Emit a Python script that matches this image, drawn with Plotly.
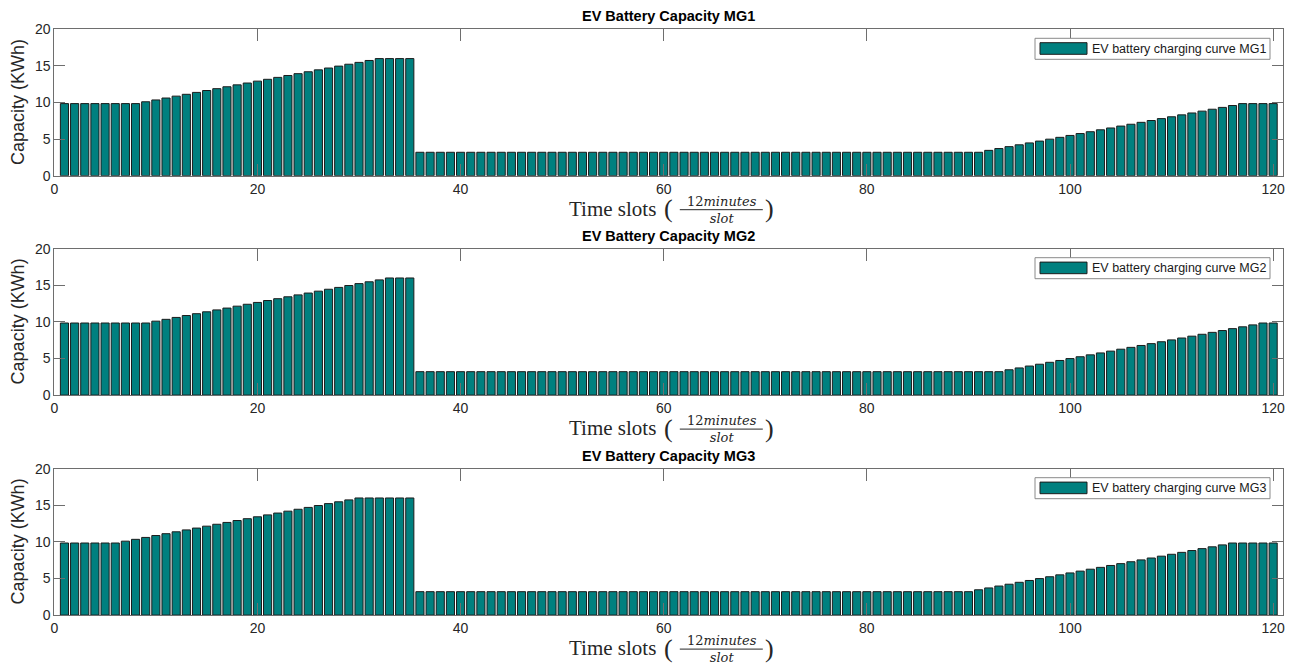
import plotly.graph_objects as go

# ---- data: EV battery capacity (kWh) per 12-minute time slot ----
slots = list(range(1, 121))

mg1_capacity = (
    [9.85] * 8
    + [10.10, 10.35, 10.61, 10.87, 11.12, 11.38, 11.64, 11.89, 12.15, 12.41, 12.66, 12.92,
       13.17, 13.43, 13.69, 13.94, 14.20, 14.46, 14.71, 14.97, 15.23, 15.48, 15.74]
    + [16.0] * 4
    + [3.2] * 56
    + [3.46, 3.71, 3.97, 4.22, 4.48, 4.73, 4.99, 5.24, 5.50, 5.76, 6.01, 6.27, 6.52,
       6.78, 7.03, 7.29, 7.54, 7.80, 8.05, 8.31, 8.57, 8.82, 9.08, 9.33, 9.59]
    + [9.85] * 4
)

mg2_capacity = (
    [9.85] * 9
    + [10.10, 10.35, 10.61, 10.87, 11.12, 11.38, 11.64, 11.89, 12.15, 12.41, 12.66, 12.92,
       13.17, 13.43, 13.69, 13.94, 14.20, 14.46, 14.71, 14.97, 15.23, 15.48, 15.74]
    + [16.0] * 3
    + [3.2] * 58
    + [3.46, 3.71, 3.97, 4.22, 4.48, 4.73, 4.99, 5.24, 5.50, 5.76, 6.01, 6.27, 6.52,
       6.78, 7.03, 7.29, 7.54, 7.80, 8.05, 8.31, 8.57, 8.82, 9.08, 9.33, 9.59]
    + [9.85] * 2
)

mg3_capacity = (
    [9.85] * 6
    + [10.10, 10.35, 10.61, 10.87, 11.12, 11.38, 11.64, 11.89, 12.15, 12.41, 12.66, 12.92,
       13.17, 13.43, 13.69, 13.94, 14.20, 14.46, 14.71, 14.97, 15.23, 15.48, 15.74]
    + [16.0] * 6
    + [3.2] * 55
    + [3.46, 3.71, 3.97, 4.22, 4.48, 4.73, 4.99, 5.24, 5.50, 5.76, 6.01, 6.27, 6.52,
       6.78, 7.03, 7.29, 7.54, 7.80, 8.05, 8.31, 8.57, 8.82, 9.08, 9.33, 9.59]
    + [9.85] * 5
)

panel_titles = ["EV Battery Capacity MG1", "EV Battery Capacity MG2", "EV Battery Capacity MG3"]
legend_labels = ["EV battery charging curve MG1", "EV battery charging curve MG2",
                 "EV battery charging curve MG3"]
series = [mg1_capacity, mg2_capacity, mg3_capacity]

x_ticks = [0, 20, 40, 60, 80, 100, 120]
y_ticks = [0, 5, 10, 15, 20]

# ---- layout geometry (pixels) ----
W, H = 1295, 670
AX_LEFT, AX_RIGHT = 54.3, 1283.3
AX_TOPS = [29.3, 248.7, 468.7]
AX_H = 146.4

BAR_COLOR = "#00807f"
AXIS_COLOR = "#6e6e6e"
TEXT_COLOR = "#262626"
SANS = "Liberation Sans, Arial, sans-serif"
SERIF = "Liberation Serif, Times New Roman, serif"
MATH = "DejaVu Serif, serif"


def px(x):
    return x / W


def py(y):
    return 1 - y / H


fig = go.Figure()
shapes = []
annotations = []
cx = (AX_LEFT + AX_RIGHT) / 2

for i, (vals, title, leg) in enumerate(zip(series, panel_titles, legend_labels)):
    n = "" if i == 0 else str(i + 1)
    top = AX_TOPS[i]
    bot = top + AX_H

    fig.add_trace(go.Bar(
        x=slots, y=vals, width=0.8,
        marker=dict(color=BAR_COLOR, line=dict(color="#1c1c1c", width=1)),
        xaxis="x" + n, yaxis="y" + n, showlegend=False,
    ))

    axis_common = dict(
        showline=True, mirror="ticks", linecolor=AXIS_COLOR, linewidth=1,
        ticks="inside", tickcolor=AXIS_COLOR, tickwidth=1,
        showgrid=False, zeroline=False, automargin=False,
        tickfont=dict(family=SANS, size=14, color=TEXT_COLOR),
    )
    fig.update_layout(**{
        "xaxis" + n: dict(
            axis_common, domain=[px(AX_LEFT), px(AX_RIGHT)], range=[0, 121],
            tickvals=x_ticks, ticklen=12, anchor="y" + n,
        ),
        "yaxis" + n: dict(
            axis_common, domain=[py(bot), py(top)], range=[0, 20],
            tickvals=y_ticks, ticklen=11, anchor="x" + n,
        ),
    })

    # panel title
    annotations.append(dict(
        text="<b>" + title + "</b>", xref="paper", yref="paper",
        x=px(cx), y=py(top - 13), xanchor="center", yanchor="middle", showarrow=False,
        font=dict(family=SANS, size=14.5, color="#000000"),
    ))

    # y-axis title
    annotations.append(dict(
        text="Capacity (KWh)", xref="paper", yref="paper", textangle=-90,
        x=px(17.5), y=py(top + AX_H / 2), xanchor="center", yanchor="middle",
        showarrow=False, font=dict(family=SANS, size=18, color=TEXT_COLOR),
    ))

    # x-axis title: Time slots (12minutes / slot)
    annotations.append(dict(
        text="Time slots", xref="paper", yref="paper",
        x=px(cx - 11), y=py(bot + 33), xanchor="right", yanchor="middle",
        showarrow=False, font=dict(family=SERIF, size=21, color=TEXT_COLOR),
    ))
    annotations.append(dict(
        text="(", xref="paper", yref="paper",
        x=px(cx), y=py(bot + 33), xanchor="center", yanchor="middle",
        showarrow=False, font=dict(family=SERIF, size=26, color=TEXT_COLOR),
    ))
    annotations.append(dict(
        text=")", xref="paper", yref="paper",
        x=px(cx + 101), y=py(bot + 33), xanchor="center", yanchor="middle",
        showarrow=False, font=dict(family=SERIF, size=26, color=TEXT_COLOR),
    ))
    # numerator and denominator as one two-line text, split by the fraction bar
    annotations.append(dict(
        text="12<i>minutes</i><br><i>slot</i>", xref="paper", yref="paper",
        x=px(cx + 53), y=py(bot + 34), xanchor="center", yanchor="middle",
        align="center", showarrow=False,
        font=dict(family=MATH, size=13, color=TEXT_COLOR),
    ))
    shapes.append(dict(
        type="line", xref="paper", yref="paper",
        x0=px(cx + 11), x1=px(cx + 94), y0=py(bot + 34), y1=py(bot + 34),
        line=dict(color=TEXT_COLOR, width=1),
    ))

    # legend box
    shapes.append(dict(
        type="rect", xref="paper", yref="paper",
        x0=px(1035), x1=px(1270), y0=py(top + 9), y1=py(top + 30),
        line=dict(color="#8a8a8a", width=1), fillcolor="#ffffff",
    ))
    shapes.append(dict(
        type="rect", xref="paper", yref="paper",
        x0=px(1040), x1=px(1087), y0=py(top + 13.4), y1=py(top + 25),
        line=dict(color="#1c1c1c", width=1), fillcolor=BAR_COLOR,
    ))
    annotations.append(dict(
        text=leg, xref="paper", yref="paper",
        x=px(1090), y=py(top + 19.5), xanchor="left", yanchor="middle",
        showarrow=False, font=dict(family=SANS, size=12.5, color="#1a1a1a"),
    ))

fig.update_layout(
    width=W, height=H,
    margin=dict(l=0, r=0, t=0, b=0, pad=0, autoexpand=False),
    paper_bgcolor="white", plot_bgcolor="white",
    bargap=0.2,
    shapes=shapes, annotations=annotations,
    showlegend=False,
)

fig.write_html("out.html")
